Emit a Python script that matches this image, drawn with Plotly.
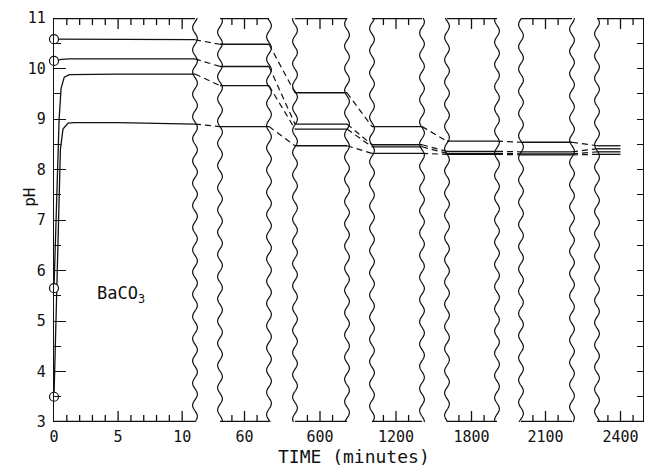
import numpy as np
import plotly.graph_objects as go

# ---------------- data ----------------
panel_times = [60, 600, 1200, 1800, 2100, 2400]
panel_labels = ["60", "600", "1200", "1800", "2100", "2400"]
early_ticks = [0, 5, 10]
early_minor = [1, 2, 3, 4, 6, 7, 8, 9]

# first 11 minutes: (time, pH) for the four runs
run1_t = [0, 0.5, 5, 11]
run1_ph = [10.58, 10.58, 10.58, 10.57]
run2_t = [0, 0.6, 1.2, 5, 11]
run2_ph = [10.15, 10.18, 10.19, 10.19, 10.19]
run3_t = [0, 0.2, 0.4, 0.55, 0.8, 1.2, 5, 11]
run3_ph = [5.65, 7.5, 9.0, 9.6, 9.83, 9.88, 9.89, 9.89]
run4_t = [0, 0.2, 0.4, 0.5, 0.7, 1.1, 1.6, 5, 11]
run4_ph = [3.5, 5.5, 7.8, 8.4, 8.8, 8.92, 8.93, 8.93, 8.90]

# values at the long times (panel_times)
run1_late = [10.48, 9.52, 8.85, 8.56, 8.54, 8.47]
run2_late = [10.04, 8.90, 8.49, 8.36, 8.35, 8.41]
run3_late = [9.66, 8.80, 8.45, 8.32, 8.31, 8.35]
run4_late = [8.85, 8.47, 8.32, 8.30, 8.29, 8.30]

# initial pH markers
start_ph = [10.58, 10.15, 5.65, 3.5]

# ---------------- layout geometry ----------------
W, H = 647, 467
ML, MR, MT, MB = 54, 4, 18, 45
PW = W - ML - MR
PH = H - MT - MB
Y0, Y1 = 3, 11
P1_RIGHT = 195
PANEL_PX = [(220, 244.5, 269), (295, 320, 347), (372, 396, 422),
            (447, 471.5, 497), (521, 545.5, 572), (597, 620.5, 643)]
PX_PER_MIN = 12.6
FONT = "DejaVu Sans Mono"
INK = "#111111"
LONG_TICK, SHORT_TICK = 11, 7


def frac(px):
    return (px - ML) / PW


def ylen(px):
    return px * (Y1 - Y0) / PH


fig = go.Figure()

layout = dict(
    width=W, height=H,
    margin=dict(l=ML, r=MR, t=MT, b=MB, pad=0),
    paper_bgcolor="white", plot_bgcolor="rgba(0,0,0,0)",
    showlegend=False,
    font=dict(family=FONT, color=INK, size=15),
)

axis_common = dict(showline=False, ticks="", showgrid=False, zeroline=False,
                   anchor="y", ticklabelstandoff=4,
                   tickfont=dict(family=FONT, size=15, color=INK))

EPS = ylen(0.6)


def panel_frame(xname, lo, hi, major, minor):
    # top and bottom borders with inward ticks, drawn as line traces
    xs, ys = [], []
    for yv in (Y0 + EPS, Y1 - EPS):
        xs += [lo, hi, None]
        ys += [yv, yv, None]
    for vals, ln in ((major, LONG_TICK), (minor, SHORT_TICK)):
        for v in vals:
            xs += [v, v, None, v, v, None]
            ys += [Y0, Y0 + ylen(ln), None, Y1, Y1 - ylen(ln), None]
    fig.add_trace(go.Scatter(x=xs, y=ys, mode="lines", line=dict(color=INK, width=1.3),
                             xaxis=xname, yaxis="y", hoverinfo="skip",
                             connectgaps=False))


layout["xaxis"] = dict(axis_common, domain=[0, frac(P1_RIGHT)], range=[0, 11],
                       tickmode="array", tickvals=early_ticks,
                       ticktext=[str(v) for v in early_ticks])
panel_frame("x", 0, 11, early_ticks[1:], early_minor)

ranges = []
for i, (t, lab) in enumerate(zip(panel_times, panel_labels)):
    l, c, r = PANEL_PX[i]
    lo = t - (c - l) / PX_PER_MIN
    hi = t + (r - c) / PX_PER_MIN
    ranges.append((lo, hi))
    layout[f"xaxis{i + 2}"] = dict(axis_common, domain=[frac(l), min(frac(r), 1.0)],
                                   range=[lo, hi], tickmode="array", tickvals=[t],
                                   ticktext=[lab])
    panel_frame(f"x{i + 2}", lo, hi, [t], [t - 1, t + 1])

layout["yaxis"] = dict(range=[Y0, Y1], domain=[0, 1], anchor="x", showline=True,
                       linecolor=INK, linewidth=1.3, ticks="inside", tickcolor=INK,
                       tickwidth=1.2, ticklen=12, tickmode="array",
                       tickvals=list(range(Y0, Y1 + 1)), showgrid=False, zeroline=False,
                       ticklabelstandoff=4,
                       tickfont=dict(family=FONT, size=15, color=INK),
                       minor=dict(dtick=0.5, ticks="inside", ticklen=7,
                                  tickcolor=INK, tickwidth=1.2))
layout["yaxis2"] = dict(range=[Y0, Y1], overlaying="y", side="right", anchor="free",
                        position=1, showline=True, linecolor=INK, linewidth=1.3,
                        ticks="inside", tickcolor=INK, tickwidth=1.2, ticklen=6,
                        dtick=0.5, showticklabels=False, showgrid=False,
                        zeroline=False)

line_style = dict(color=INK, width=1.3)

# early curves (panel 1)
for tt, pp in [(run1_t, run1_ph), (run2_t, run2_ph), (run3_t, run3_ph), (run4_t, run4_ph)]:
    fig.add_trace(go.Scatter(x=tt, y=pp, mode="lines", line=line_style,
                             xaxis="x", yaxis="y", hoverinfo="skip"))

lates = [run1_late, run2_late, run3_late, run4_late]
early_end = [run1_ph[-1], run2_ph[-1], run3_ph[-1], run4_ph[-1]]

# horizontal segments inside each long-time panel
for i, t in enumerate(panel_times):
    lo, hi = ranges[i]
    x_end = t if i == len(panel_times) - 1 else hi
    for late in lates:
        fig.add_trace(go.Scatter(x=[lo, x_end], y=[late[i], late[i]], mode="lines",
                                 line=line_style, xaxis=f"x{i + 2}", yaxis="y",
                                 hoverinfo="skip"))

shapes = []
# dashed connectors across the breaks
right_edges = [P1_RIGHT] + [p[2] for p in PANEL_PX[:-1]]
left_edges = [p[0] for p in PANEL_PX]
for k, late in enumerate(lates):
    prev_vals = [early_end[k]] + late[:-1]
    for j in range(len(panel_times)):
        shapes.append(dict(type="line", xref="paper", yref="y",
                           x0=frac(right_edges[j]), x1=frac(left_edges[j]),
                           y0=prev_vals[j], y1=late[j],
                           line=dict(color=INK, width=1.2, dash="6px,4px")))

# wavy break edges
yy = np.linspace(Y0, Y1, 241)
edges = [P1_RIGHT]
for l, c, r in PANEL_PX:
    edges.append(l)
    if r < W - MR:
        edges.append(r)
for n, e in enumerate(edges):
    xx = frac(e + 2.4 * np.sin(2 * np.pi * (yy - Y0) / 0.44 + 1.3 * n))
    path = "M" + " L".join(f"{a:.5f},{b:.4f}" for a, b in zip(xx, yy))
    shapes.append(dict(type="path", xref="paper", yref="y", path=path,
                       line=dict(color=INK, width=1.2)))

# invisible trace to activate the right-hand axis
fig.add_trace(go.Scatter(x=[panel_times[-1]], y=[7], mode="markers",
                         marker=dict(opacity=0), xaxis="x7", yaxis="y2",
                         hoverinfo="skip"))

# start markers
fig.add_trace(go.Scatter(x=[0] * len(start_ph), y=start_ph, mode="markers",
                         marker=dict(symbol="circle", size=9, color="white",
                                     line=dict(color=INK, width=1.2)),
                         cliponaxis=False, xaxis="x", yaxis="y", hoverinfo="skip"))

layout["shapes"] = shapes
layout["annotations"] = [
    dict(text="BaCO<sub>3</sub>", x=5.2, y=5.52, xref="x", yref="y", showarrow=False,
         font=dict(family=FONT, size=17, color=INK)),
    dict(text="pH", x=frac(18), y=7.45, xref="paper", yref="y", showarrow=False,
         textangle=-90, font=dict(family=FONT, size=16, color=INK)),
    dict(text="TIME (minutes)", x=frac(354), y=-34 / PH, xref="paper", yref="paper",
         xanchor="center", yanchor="middle", showarrow=False,
         font=dict(family=FONT, size=18, color=INK)),
]

fig.update_layout(**layout)
fig.write_html("out.html")
